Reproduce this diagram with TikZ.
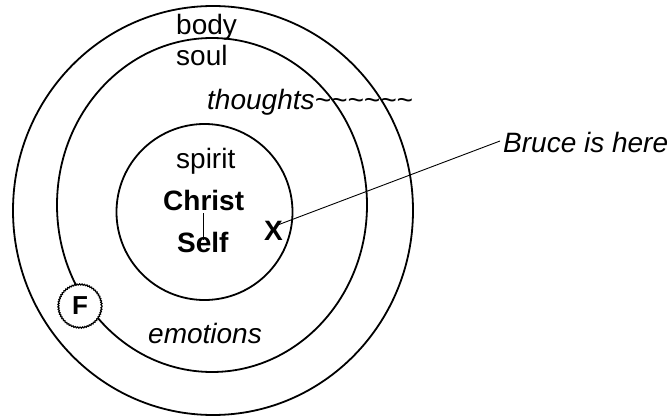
\documentclass[tikz,border=0pt]{standalone}
\usepackage{fontspec}
\setmainfont{Liberation Sans}
\usetikzlibrary{decorations.pathmorphing}
\begin{document}
\begin{tikzpicture}[x=1pt,y=-1pt,
  ring/.style={line width=1.8pt},
  lbl/.style={inner sep=0pt,anchor=base west,font=\fontsize{28}{32}\selectfont},
  lblit/.style={lbl,font=\fontsize{28}{32}\selectfont\itshape},
  lblbf/.style={lbl,font=\fontsize{28}{32}\selectfont\bfseries},
  thin/.style={line width=0.9pt},
  fcirc/.style={circle,fill=white,draw,line width=1.2pt,minimum size=44pt,inner sep=0pt,
    font=\fontsize{26}{30}\selectfont\bfseries,
    decorate,decoration={bumps,segment length=5pt,amplitude=1pt}}]
\useasboundingbox (0,0) rectangle (671,417);
\draw[ring] (213,210.5) ellipse [x radius=200, y radius=204.5];
\draw[ring] (212,205) ellipse [x radius=155, y radius=167];
\draw[ring] (204.5,212) circle [radius=88];
\node[lbl] (body) at (176,35) {body};
\node[lbl] (soul) at (176,66) {soul};
\node[lblit] (thoughts) at (207,110) {thoughts\char`~\char`~\char`~\char`~\char`~\char`~};
\node[lbl] (spirit) at (176,168) {spirit};
\node[lblbf] (christ) at (163,210) {Christ};
\node[lblbf] (self) at (177,252) {Self};
\node[lblbf] (xnode) at (264,240) {X};
\node[lblit] (bruce) at (503,152) {Bruce is here};
\node[lblit] (emotions) at (148,343) {emotions};
\node[fcirc] (f) at (80,306) {F};
\coordinate (cs1) at (203,213);
\coordinate (cs2) at (203,240);
\draw[thin] (cs1) -- (cs2);
\coordinate (xs) at (275,226);
\coordinate (be) at (500,141);
\draw[thin] (xs) -- (be);
\end{tikzpicture}
\end{document}
